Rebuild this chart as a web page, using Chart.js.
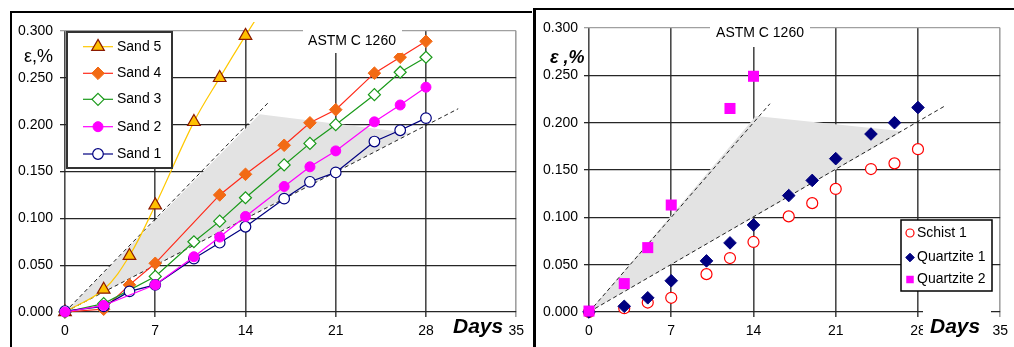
<!DOCTYPE html>
<html>
<head>
<meta charset="utf-8">
<script src="https://cdn.jsdelivr.net/npm/chart.js@4.4.1/dist/chart.umd.min.js"></script>
<style>
  html, body { margin: 0; padding: 0; background: #fff; }
  body { width: 1014px; height: 347px; position: relative; overflow: hidden; }
  .frame { position: absolute; border-left: 2px solid #000; border-top: 2px solid #000; }
  canvas { position: absolute; }
</style>
</head>
<body>
<div class="frame" style="left:10px;top:11px;width:520px;height:340px;"></div>
<div class="frame" style="left:533px;top:8px;width:490px;height:340px;border-left-width:3px;"></div>
<canvas id="sandChart" width="518" height="333" style="left:12px;top:14px;"></canvas>
<canvas id="rockChart" width="477" height="336" style="left:537px;top:11px;"></canvas>
<script>
// Axis ticks
const dayTicks = [0, 7, 14, 21, 28, 35];
const expTicks = [0, 0.05, 0.10, 0.15, 0.20, 0.25, 0.30];

// Left chart - sands (expansion in %)
const sand5Days = [0, 3, 5, 7, 10, 12, 14, 17];
const sand5Exp  = [0, 0.024, 0.060, 0.114, 0.203, 0.250, 0.295, 0.360];
const sand4Days = [0, 3, 5, 7, 12, 14, 17, 19, 21, 24, 26, 28];
const sand4Exp  = [0, 0.003, 0.029, 0.052, 0.125, 0.147, 0.178, 0.202, 0.216, 0.255, 0.272, 0.289];
const sand3Days = [0, 3, 7, 10, 12, 14, 17, 19, 21, 24, 26, 28];
const sand3Exp  = [0, 0.009, 0.038, 0.075, 0.097, 0.122, 0.157, 0.180, 0.200, 0.232, 0.256, 0.272];
const sand2Days = [0, 3, 7, 10, 12, 14, 17, 19, 21, 24, 26, 28];
const sand2Exp  = [0, 0.007, 0.029, 0.059, 0.080, 0.102, 0.134, 0.155, 0.172, 0.203, 0.221, 0.240];
const sand1Days = [0, 3, 5, 7, 10, 12, 14, 17, 19, 21, 24, 26, 28];
const sand1Exp  = [0.001, 0.006, 0.022, 0.029, 0.057, 0.074, 0.091, 0.121, 0.139, 0.149, 0.182, 0.194, 0.207];

// Right chart - rocks
const schistDays = [0, 3, 5, 7, 10, 12, 14, 17, 19, 21, 24, 26, 28];
const schistExp  = [0, 0.004, 0.010, 0.015, 0.040, 0.057, 0.074, 0.101, 0.115, 0.130, 0.151, 0.157, 0.172];
const quartz1Days = [0, 3, 5, 7, 10, 12, 14, 17, 19, 21, 24, 26, 28];
const quartz1Exp  = [0, 0.006, 0.015, 0.033, 0.054, 0.073, 0.092, 0.123, 0.139, 0.162, 0.188, 0.200, 0.216];
const quartz2Days = [0, 3, 5, 7, 12, 14];
const quartz2Exp  = [0.001, 0.030, 0.068, 0.113, 0.215, 0.249];

// ASTM C 1260 limit lines and shaded band
const sandUpperX = [0, 15.8], sandUpperY = [0, 0.224];
const sandLowerX = [0, 30.5], sandLowerY = [0, 0.217];
const sandBandX  = [0, 15.1, 26.8], sandBandY = [0, 0.211, 0.191];
const rockUpperX = [0, 15.4], rockUpperY = [0, 0.220];
const rockLowerX = [0, 30.2], rockLowerY = [0, 0.217];
const rockBandX  = [0, 14.2, 26.7], rockBandY = [0, 0.207, 0.191];

Chart.defaults.font.family = "'Liberation Sans', Arial, sans-serif";
Chart.defaults.font.size = 14;
Chart.defaults.color = '#000';

function pts(xs, ys) {
    return xs.map((x, i) => ({ x: x, y: ys[i] }));
}

function near(a, b) { return Math.abs(a - b) < 1e-9; }

function makeScales(yWidth, yPad) {
    return {
        x: {
            type: 'linear', min: 0, max: 35,
            afterBuildTicks: s => { s.ticks = dayTicks.map(v => ({ value: v })); },
            ticks: { padding: 6, maxRotation: 0, autoSkip: false },
            grid: {
                color: c => (c.tick && near(c.tick.value, 35)) ? '#a0a0a0' : '#4a4a4a',
                lineWidth: 1.6, tickLength: 5
            },
            border: { display: false },
            afterFit: s => { s.height = 35; }
        },
        y: {
            type: 'linear', min: 0, max: 0.3,
            afterBuildTicks: s => { s.ticks = expTicks.map(v => ({ value: v })); },
            ticks: { padding: yPad, callback: v => v.toFixed(3), autoSkip: false },
            grid: {
                color: c => (c.tick && near(c.tick.value, 0.3)) ? '#a0a0a0' : '#262626',
                lineWidth: 1.3, tickLength: 5
            },
            border: { display: false },
            afterFit: s => { s.width = yWidth; }
        }
    };
}

function bandSets(bx, by, ux, uy, lx, ly) {
    return [
        { label: 'band', data: pts(bx, by), showLine: true, fill: 'shape',
          backgroundColor: '#e3e3e3', borderColor: 'rgba(0,0,0,0)', borderWidth: 0,
          pointRadius: 0, order: 100 },
        { label: 'upper', data: pts(ux, uy), showLine: true, borderColor: '#222',
          borderWidth: 1, borderDash: [4, 3], pointRadius: 0, order: 90 },
        { label: 'lower', data: pts(lx, ly), showLine: true, borderColor: '#222',
          borderWidth: 1, borderDash: [4, 3], pointRadius: 0, order: 90 }
    ];
}

function marker(ctx, style, x, y, r, fill, stroke, lw) {
    ctx.save();
    ctx.beginPath();
    if (style === 'circle') {
        ctx.arc(x, y, r, 0, Math.PI * 2);
    } else if (style === 'triangle') {
        ctx.moveTo(x, y - r);
        ctx.lineTo(x + r * 0.866, y + r * 0.5);
        ctx.lineTo(x - r * 0.866, y + r * 0.5);
        ctx.closePath();
    } else if (style === 'rectRot') {
        ctx.moveTo(x, y - r); ctx.lineTo(x + r, y); ctx.lineTo(x, y + r); ctx.lineTo(x - r, y);
        ctx.closePath();
    } else {
        const s = r * Math.SQRT1_2;
        ctx.rect(x - s, y - s, 2 * s, 2 * s);
    }
    ctx.fillStyle = fill;
    ctx.fill();
    if (lw > 0) { ctx.lineWidth = lw; ctx.strokeStyle = stroke; ctx.stroke(); }
    ctx.restore();
}

function whiteBox(ctx, x, y, w, h) {
    ctx.fillStyle = '#fff';
    ctx.fillRect(x, y, w, h);
}

// Left chart: sands
const sandLegend = ['Sand 5', 'Sand 4', 'Sand 3', 'Sand 2', 'Sand 1'];
const sandLabels = {
    id: 'sandLabels',
    afterDraw(chart) {
        const ctx = chart.ctx, ca = chart.chartArea;
        ctx.save();
        // ASTM label
        whiteBox(ctx, ca.left + 238, ca.top - 6, 99, 28);
        ctx.fillStyle = '#000';
        ctx.font = "14px 'Liberation Sans', Arial";
        ctx.textAlign = 'center'; ctx.textBaseline = 'middle';
        ctx.fillText('ASTM C 1260', ca.left + 287, ca.top + 10);
        // axis titles
        ctx.textBaseline = 'alphabetic';
        ctx.textAlign = 'right';
        ctx.font = "18px 'Liberation Sans', Arial";
        ctx.fillText('\u03b5,%', ca.left - 12, ca.top + 31);
        ctx.textAlign = 'left';
        ctx.font = "italic bold 21px 'Liberation Sans', Arial";
        ctx.fillText('Days', ca.left + 388, ca.bottom + 21);
        // legend
        const lx = ca.left + 2, ly = ca.top + 1;
        whiteBox(ctx, lx, ly, 105, 136);
        ctx.strokeStyle = '#333'; ctx.lineWidth = 2;
        ctx.strokeRect(lx, ly, 105, 136);
        const rows = [15.7, 42.3, 68.3, 95.7, 123];
        sandLegend.forEach((name, i) => {
            const ds = chart.data.datasets.find(d => d.label === name);
            const y = ca.top + rows[i];
            ctx.beginPath();
            ctx.moveTo(ca.left + 18, y); ctx.lineTo(ca.left + 48, y);
            ctx.strokeStyle = ds.borderColor; ctx.lineWidth = ds.borderWidth;
            ctx.stroke();
            marker(ctx, ds.pointStyle, ca.left + 33, y, ds.pointRadius,
                   ds.pointBackgroundColor, ds.pointBorderColor, ds.pointBorderWidth);
            ctx.fillStyle = '#000';
            ctx.font = "14px 'Liberation Sans', Arial";
            ctx.textAlign = 'left'; ctx.textBaseline = 'middle';
            ctx.fillText(name, ca.left + 52, y);
        });
        ctx.restore();
    }
};

new Chart(document.getElementById('sandChart'), {
    type: 'scatter',
    data: {
        datasets: [
            { label: 'Sand 5', data: pts(sand5Days, sand5Exp), showLine: true, tension: 0.35,
              borderColor: '#ffc800', borderWidth: 1.2,
              pointStyle: 'triangle', pointRadius: 7.3, pointBackgroundColor: '#ffc000',
              pointBorderColor: '#8b1a00', pointBorderWidth: 1.2,
              clip: { left: 10, top: 9, right: 10, bottom: 10 }, order: 5 },
            { label: 'Sand 4', data: pts(sand4Days, sand4Exp), showLine: true,
              borderColor: '#ff2a1a', borderWidth: 1.2,
              pointStyle: 'rectRot', pointRadius: 6.3, pointBackgroundColor: '#f26a14',
              pointBorderColor: '#f26a14', pointBorderWidth: 1, clip: false, order: 4 },
            { label: 'Sand 3', data: pts(sand3Days, sand3Exp), showLine: true,
              borderColor: '#1a9a1a', borderWidth: 1.2,
              pointStyle: 'rectRot', pointRadius: 6, pointBackgroundColor: '#fff',
              pointBorderColor: '#1a9a1a', pointBorderWidth: 1.2, clip: false, order: 3 },
            { label: 'Sand 2', data: pts(sand2Days, sand2Exp), showLine: true,
              borderColor: '#ff00ff', borderWidth: 1.2,
              pointStyle: 'circle', pointRadius: 5, pointBackgroundColor: '#ff00ff',
              pointBorderColor: '#ff00ff', pointBorderWidth: 1, clip: false, order: 1 },
            { label: 'Sand 1', data: pts(sand1Days, sand1Exp), showLine: true,
              borderColor: '#000080', borderWidth: 1.2,
              pointStyle: 'circle', pointRadius: 5.3, pointBackgroundColor: '#fff',
              pointBorderColor: '#000080', pointBorderWidth: 1.2, clip: false, order: 2 }
        ].concat(bandSets(sandBandX, sandBandY, sandUpperX, sandUpperY, sandLowerX, sandLowerY))
    },
    options: {
        responsive: false,
        animation: false,
        layout: { padding: { top: 17, right: 12, left: 0, bottom: 0 } },
        scales: makeScales(53, 7),
        plugins: { legend: { display: false }, tooltip: { enabled: false } }
    },
    plugins: [sandLabels]
});

// Right chart: schist and quartzites
const rockLegend = ['Schist 1', 'Quartzite 1', 'Quartzite 2'];
const rockLegendSize = { 'Schist 1': 4, 'Quartzite 1': 4.3, 'Quartzite 2': 5.3 };
const rockLabels = {
    id: 'rockLabels',
    afterDraw(chart) {
        const ctx = chart.ctx, ca = chart.chartArea;
        ctx.save();
        whiteBox(ctx, ca.left + 121, ca.top - 8, 100, 27);
        ctx.fillStyle = '#000';
        ctx.font = "14px 'Liberation Sans', Arial";
        ctx.textAlign = 'center'; ctx.textBaseline = 'middle';
        ctx.fillText('ASTM C 1260', ca.left + 171, ca.top + 5);
        ctx.textBaseline = 'alphabetic';
        ctx.textAlign = 'left';
        ctx.font = "italic bold 18px 'Liberation Sans', Arial";
        ctx.fillText('\u03b5 ,%', ca.left - 39, ca.top + 35);
        whiteBox(ctx, ca.left + 334, ca.bottom - 3, 68, 38);
        ctx.fillStyle = '#000';
        ctx.font = "italic bold 21px 'Liberation Sans', Arial";
        ctx.fillText('Days', ca.left + 341, ca.bottom + 21);
        // legend
        const lx = ca.left + 312, ly = ca.top + 192;
        whiteBox(ctx, lx, ly, 91, 71);
        ctx.strokeStyle = '#000'; ctx.lineWidth = 1.5;
        ctx.strokeRect(lx, ly, 91, 71);
        const rows = [205, 229.5, 251.5];
        rockLegend.forEach((name, i) => {
            const ds = chart.data.datasets.find(d => d.label === name);
            const y = ca.top + rows[i];
            marker(ctx, ds.pointStyle, ca.left + 321, y, rockLegendSize[name],
                   ds.pointBackgroundColor, ds.pointBorderColor, ds.pointBorderWidth);
            ctx.fillStyle = '#000';
            ctx.font = "14px 'Liberation Sans', Arial";
            ctx.textAlign = 'left'; ctx.textBaseline = 'middle';
            ctx.fillText(name, ca.left + 328, y);
        });
        ctx.restore();
    }
};

new Chart(document.getElementById('rockChart'), {
    type: 'scatter',
    data: {
        datasets: [
            { label: 'Schist 1', data: pts(schistDays, schistExp),
              pointStyle: 'circle', pointRadius: 5.5, pointBackgroundColor: '#fff',
              pointBorderColor: '#ff0000', pointBorderWidth: 1.2, clip: false, order: 3 },
            { label: 'Quartzite 1', data: pts(quartz1Days, quartz1Exp),
              pointStyle: 'rectRot', pointRadius: 6.3, pointBackgroundColor: '#000080',
              pointBorderColor: '#000080', pointBorderWidth: 1, clip: false, order: 2 },
            { label: 'Quartzite 2', data: pts(quartz2Days, quartz2Exp),
              pointStyle: 'rect', pointRadius: 7.8, pointBackgroundColor: '#ff00ff',
              pointBorderColor: '#ff00ff', pointBorderWidth: 0, clip: false, order: 1 }
        ].concat(bandSets(rockBandX, rockBandY, rockUpperX, rockUpperY, rockLowerX, rockLowerY))
    },
    options: {
        responsive: false,
        animation: false,
        layout: { padding: { top: 17, right: 12, left: 0, bottom: 0 } },
        scales: makeScales(52, 6),
        plugins: { legend: { display: false }, tooltip: { enabled: false } }
    },
    plugins: [rockLabels]
});
</script>
</body>
</html>
